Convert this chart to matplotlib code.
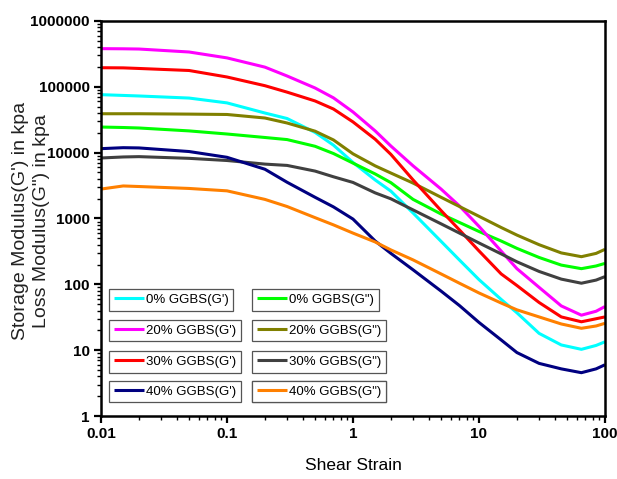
import matplotlib
matplotlib.use('Agg')
import matplotlib.pyplot as plt
from matplotlib.ticker import FixedLocator, FixedFormatter, LogLocator, NullFormatter

plt.rcParams['font.family'] = ['Liberation Sans', 'DejaVu Sans']

# shear strain points
strain = [0.01, 0.015, 0.02, 0.05, 0.1, 0.2, 0.3, 0.5, 0.7, 1, 1.5, 2, 3, 5, 7,
          10, 15, 20, 30, 45, 65, 85, 100]

g1_0 = [76000, 74000, 72600, 67500, 57000, 40000, 33000, 20300, 13000, 7100, 3850, 2600,
        1210, 450, 234, 118, 59, 37, 18, 12, 10.3, 11.8, 13.4]
g2_0 = [24500, 24100, 23700, 21400, 19200, 17000, 15800, 12500, 9700, 6940, 4750, 3500,
        1950, 1170, 870, 635, 455, 352, 256, 196, 173, 190, 208]
g1_20 = [380000, 378000, 375000, 338000, 275000, 199000, 146000, 96000, 68000, 41500, 21400,
         12600, 6300, 2800, 1550, 760, 320, 173, 90, 47, 34, 39, 46]
g2_20 = [39000, 39000, 39000, 38500, 38000, 33600, 28200, 21200, 15600, 9600, 6300, 4900,
         3450, 2100, 1520, 1080, 730, 560, 400, 300, 263, 295, 340]
g1_30 = [195000, 194000, 190000, 177000, 141000, 104000, 83000, 61000, 46000, 29300, 16000,
         9400, 3850, 1320, 670, 322, 144, 96, 53, 32, 27, 30, 32]
g2_30 = [8300, 8600, 8700, 8200, 7600, 6700, 6400, 5250, 4300, 3530, 2450, 1990, 1350, 830,
         600, 425, 290, 220, 157, 120, 104, 116, 131]
g1_40 = [11500, 11900, 11800, 10400, 8500, 5600, 3550, 2100, 1500, 980, 455, 295, 166, 79,
         47.6, 26.4, 14.3, 9.2, 6.3, 5.2, 4.55, 5.2, 6.0]
g2_40 = [2800, 3120, 3060, 2860, 2630, 1950, 1520, 1030, 800, 600, 440, 333, 235, 144, 104,
         74, 52, 41, 32, 25, 21.5, 23.3, 25.6]

labels = ["0% GGBS(G')", '0% GGBS(G")', "20% GGBS(G')", '20% GGBS(G")',
          "30% GGBS(G')", '30% GGBS(G")', "40% GGBS(G')", '40% GGBS(G")']
series = [g1_0, g2_0, g1_20, g2_20, g1_30, g2_30, g1_40, g2_40]
colors = ['#00FFFF', '#00FF00', '#FF00FF', '#808000',
          '#FF0000', '#404040', '#000080', '#FF8000']

fig = plt.figure(figsize=(6.17, 4.79), dpi=100)
ax = fig.add_axes([0.1637, 0.1315, 0.8168, 0.8247])

lines = []
for vals, c, lab in zip(series, colors, labels):
    ln, = ax.plot(strain, vals, color=c, lw=2.2, label=lab,
                  solid_joinstyle='round', solid_capstyle='butt')
    lines.append(ln)

ax.set_xscale('log')
ax.set_yscale('log')
ax.set_xlim(0.01, 100)
ax.set_ylim(1, 1000000)

xt = [0.01, 0.1, 1, 10, 100]
ax.xaxis.set_major_locator(FixedLocator(xt))
ax.xaxis.set_major_formatter(FixedFormatter(['0.01', '0.1', '1', '10', '100']))
yt = [1, 10, 100, 1000, 10000, 100000, 1000000]
ax.yaxis.set_major_locator(FixedLocator(yt))
ax.yaxis.set_major_formatter(FixedFormatter([str(v) for v in yt]))
for a in (ax.xaxis, ax.yaxis):
    a.set_minor_locator(LogLocator(base=10, subs=range(2, 10), numticks=20))
    a.set_minor_formatter(NullFormatter())

ax.tick_params(which='major', direction='out', length=5, width=1.6, labelsize=11, pad=3)
ax.tick_params(which='minor', direction='out', length=3, width=1.0)
for t in ax.get_xticklabels() + ax.get_yticklabels():
    t.set_fontweight('bold')
for s in ax.spines.values():
    s.set_linewidth(1.8)

ax.set_xlabel('Shear Strain', fontsize=12.5, labelpad=12)
fig.text(31 / 617, 1 - 221 / 479, "Storage Modulus(G') in kpa\nLoss Modulus(G\") in kpa",
         rotation=90, ha='center', va='center', multialignment='center',
         fontsize=14, linespacing=1.3, color='#222222')

# each legend entry sits in its own small box, two columns
col_x = [0.016, 0.30]
row_y = [0.294, 0.216, 0.137, 0.062]
for i, ln in enumerate(lines):
    leg = ax.legend([ln], [labels[i]], loc='center left',
                    bbox_to_anchor=(col_x[i % 2], row_y[i // 2]),
                    fontsize=9.5, frameon=True, fancybox=False, framealpha=1,
                    edgecolor='#555555', handlelength=2.3, handletextpad=0.15,
                    borderpad=0.35, borderaxespad=0)
    leg.get_frame().set_linewidth(0.9)
    ax.add_artist(leg)

fig.savefig('out.png', dpi=100)
